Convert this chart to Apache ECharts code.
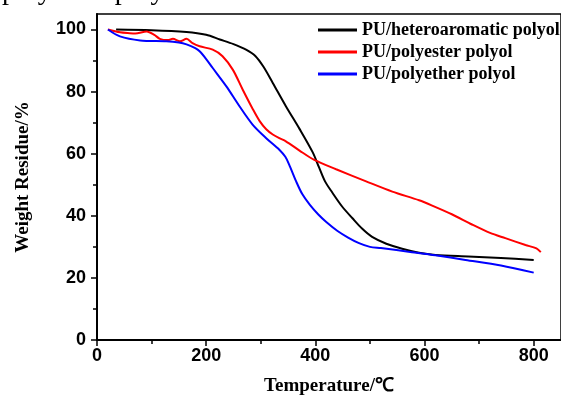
<!DOCTYPE html>
<html>
<head>
<meta charset="utf-8">
<script src="https://cdn.jsdelivr.net/npm/echarts@6/dist/echarts.min.js"></script>
<style>
  html, body { margin: 0; padding: 0; background: #fff; }
  #chart { width: 561px; height: 398px; }
</style>
</head>
<body>
<div id="chart"></div>
<script>
// TGA curves: [temperature, weight residue %]
const heteroaromatic = [
  [35, 100], [100, 99.8], [164, 99.2], [200, 98.3], [225, 96.8], [250, 95.3],
  [273, 93.5], [290, 91.5], [305, 88], [322, 82.8], [346, 75.3], [371, 68],
  [395, 60.5], [407, 55.5], [418, 51], [431, 47.5], [449, 43], [468, 39.2],
  [486, 35.8], [504, 33.2], [530, 31], [559, 29.4], [590, 28.1], [620, 27.4],
  [680, 26.9], [740, 26.4], [800, 25.8]
];
const polyester = [
  [20, 100], [42, 99.1], [60, 98.8], [70, 98.7], [91, 99.4], [105, 98.3],
  [115, 97], [130, 96.6], [139, 97], [152, 96.2], [164, 97], [175, 95.6],
  [188, 94.6], [212, 93.5], [230, 91.4], [249, 87], [267, 80.6], [285, 74.5],
  [298, 70.5], [310, 67.9], [322, 66.2], [334, 65], [346, 64], [371, 61],
  [398, 58], [438, 55], [493, 51.1], [541, 47.8], [590, 45], [614, 43.3],
  [650, 40.5], [687, 37.2], [720, 34.5], [748, 32.8], [785, 30.6], [805, 29.5],
  [813, 28.3]
];
const polyether = [
  [20, 100], [42, 97.8], [79, 96.5], [127, 96.2], [150, 95.8], [164, 95.2],
  [180, 94], [188, 93], [200, 90.5], [212, 87.6], [237, 81.7], [261, 75.3],
  [285, 69.4], [310, 65], [334, 61.3], [345, 59], [352, 56.5], [365, 51],
  [376, 47], [390, 43.5], [405, 40.5], [420, 38], [440, 35.2], [460, 33],
  [480, 31.2], [500, 30], [520, 29.6], [577, 28.3], [620, 27.3], [675, 25.8],
  [740, 24], [800, 21.7]
];

const xTicks = [0, 200, 400, 600, 800];
const xMinorTicks = [100, 300, 500, 700];
const yTicks = [0, 20, 40, 60, 80, 100];
const yMinorTicks = [10, 30, 50, 70, 90];

const chart = echarts.init(document.getElementById('chart'));

const labelFont = { fontFamily: 'Liberation Sans', fontWeight: 'bold', fontSize: 18, color: '#000' };
const nameFont = { fontFamily: 'Liberation Serif', fontWeight: 'bold', fontSize: 19, color: '#000' };

const option = {
  animation: false,
  backgroundColor: '#fff',
  grid: {
    left: 97, right: 0, top: 14, bottom: 58,
    outerBoundsMode: 'none',
    show: true, borderColor: '#000', borderWidth: 1.5
  },
  legend: {
    orient: 'vertical',
    left: 318,
    top: 21,
    padding: 0,
    icon: 'rect',
    itemWidth: 39,
    itemHeight: 3,
    itemGap: 4,
    textStyle: { fontFamily: 'Liberation Serif', fontWeight: 'bold', fontSize: 18, color: '#000', lineHeight: 18 }
  },
  graphic: [{
    type: 'text',
    x: 2,
    y: 6,
    style: { text: 'polyether polyol', font: '28px "Liberation Serif"', fill: '#000', verticalAlign: 'bottom' }
  }],
  xAxis: [{
    type: 'value', min: 0, max: 850,
    name: 'Temperature/℃', nameLocation: 'middle', nameGap: 37, nameTextStyle: nameFont,
    axisLine: { lineStyle: { color: '#000', width: 2 } },
    axisTick: { inside: false, length: 6, customValues: xTicks, lineStyle: { color: '#000', width: 1.5 } },
    axisLabel: Object.assign({ margin: 7, customValues: xTicks }, labelFont),
    splitLine: { show: false }
  }, {
    type: 'value', min: 0, max: 850, position: 'bottom',
    axisLine: { show: false },
    axisTick: { length: 4, customValues: xMinorTicks, lineStyle: { color: '#000', width: 1.5 } },
    axisLabel: { show: false },
    splitLine: { show: false }
  }],
  yAxis: [{
    type: 'value', min: 0, max: 105,
    name: 'Weight Residue/%', nameLocation: 'middle', nameGap: 64, nameTextStyle: nameFont,
    axisLine: { lineStyle: { color: '#000', width: 2 } },
    axisTick: { inside: false, length: 6, customValues: yTicks, lineStyle: { color: '#000', width: 1.5 } },
    axisLabel: Object.assign({ margin: 11, customValues: yTicks }, labelFont),
    splitLine: { show: false }
  }, {
    type: 'value', min: 0, max: 105, position: 'left',
    axisLine: { show: false },
    axisTick: { length: 4, customValues: yMinorTicks, lineStyle: { color: '#000', width: 1.5 } },
    axisLabel: { show: false },
    splitLine: { show: false }
  }],
  series: [
    {
      name: 'PU/heteroaromatic polyol', type: 'line', data: heteroaromatic,
      smooth: 0.3, symbol: 'none', color: '#000', lineStyle: { width: 2 }
    },
    {
      name: 'PU/polyester polyol', type: 'line', data: polyester,
      smooth: 0.3, symbol: 'none', color: '#ff0000', lineStyle: { width: 2 }
    },
    {
      name: 'PU/polyether polyol', type: 'line', data: polyether,
      smooth: 0.3, symbol: 'none', color: '#0000ff', lineStyle: { width: 2 }
    }
  ]
};

chart.setOption(option);
</script>
</body>
</html>
